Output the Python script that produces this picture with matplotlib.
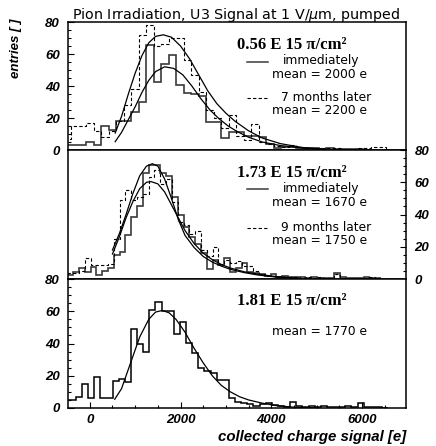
import numpy as np
import matplotlib
matplotlib.use("Agg")
import matplotlib.pyplot as plt
from matplotlib.ticker import MultipleLocator

plt.rcParams['font.family'] = ['Liberation Sans', 'DejaVu Sans']

x_lim = (-480, 6970)
y_lim = (0, 80)

# --- 0.56 E 15 pi/cm2 : histograms (bin start, bin width, counts)
top_bin_start = -568
top_bin_width = 165
top_now = [3.3, 3.3, 3.3, 5, 3.3, 15, 12.5, 18, 18, 24, 30, 65.5, 42.5, 54, 59.5,
           40.5, 35.5, 35, 34, 17.7, 17.7, 7.7, 11, 11, 9, 8.5, 8, 4, 1, 2, 2, 1.5,
           1, 1, 0.5, 1, 0.5, 0.5, 0.5, 0.5, 0]
top_later = [7, 15, 15, 17, 12, 8, 12, 18, 28, 38, 72, 78, 65, 66, 70, 70, 56, 47,
             36, 25, 20, 14, 22, 9, 6, 16.5, 5, 4, 2.5, 2, 3, 2, 1.5, 1.5, 1, 1, 1,
             0.5, 0.5, 1, 1, 2, 2, 0]
# fit curves
top_fit_now_x = [560, 700, 850, 1000, 1150, 1300, 1450, 1650, 1850, 2050, 2250, 2450,
                 2650, 2850, 3050, 3250, 3500, 3800, 4200, 4700, 5200]
top_fit_now_y = [5.2, 11, 19, 27, 36, 43.5, 49, 52, 51, 47, 40, 32, 25, 19.5, 15,
                 11.5, 8, 5, 2.8, 1.2, 0.4]
top_fit_later_x = [560, 700, 850, 1000, 1150, 1300, 1450, 1620, 1800, 2000, 2200, 2400,
                   2600, 2800, 3000, 3200, 3500, 3800, 4200, 4700, 5200]
top_fit_later_y = [10.6, 21, 35, 48, 59, 67, 71, 72, 70.5, 65, 57, 47, 37, 29, 23, 18,
                   12, 7.5, 4, 1.5, 0.5]

# --- 1.73 E 15 pi/cm2
mid_bin_start = -494
mid_bin_width = 128
mid_now = [2.5, 4.5, 6.6, 4.5, 7.6, 2.5, 5, 6.6, 15, 17, 27, 38.7, 45, 65.5, 70.7,
           70.7, 66, 64, 51, 40, 32.5, 26, 22, 16, 6, 12, 8.7, 12.8, 4.5, 6.6, 9.7,
           4.5, 3.5, 3, 2, 3, 1.5, 2, 1, 1.5, 1, 0.5, 1, 0.5, 0.5, 0.5, 4, 1, 0.5,
           0.5, 0.5, 1.5, 0.5, 0.5]
mid_later = [3.5, 3.5, 5, 12.8, 8.7, 8.7, 8.7, 9, 25, 49, 55, 49, 51, 53, 63.5, 67.6,
             59, 62, 48, 35.5, 33.5, 28, 30, 18, 14, 20, 9, 12, 10, 11, 8, 8, 5, 3, 2,
             2, 1.5, 1, 1.5, 1, 0.5, 1, 0.5, 1, 0.5, 0.5, 3, 0.5, 0.5, 0.5, 0.5, 0.5,
             1.5, 0]
mid_fit_now_x = [500, 650, 800, 950, 1100, 1250, 1380, 1500, 1650, 1800, 1950, 2100,
                 2300, 2500, 2700, 2900, 3100, 3400, 3700, 4100, 4600]
mid_fit_now_y = [18, 28, 40, 53, 64, 70, 71.5, 70, 62, 50, 37, 27, 19.5, 14, 10.5, 8,
                 6, 4, 2.5, 1.2, 0.4]
mid_fit_later_x = [500, 650, 800, 950, 1100, 1250, 1350, 1500, 1650, 1800, 1950, 2100,
                   2300, 2500, 2700, 2900, 3100, 3400, 3700, 4100, 4600]
mid_fit_later_y = [15.5, 26, 38, 48, 56, 60, 60.4, 59, 54, 46, 38, 30, 22, 16, 12, 9,
                   6.8, 4.5, 3, 1.5, 0.5]

# --- 1.81 E 15 pi/cm2
bot_bin_start = -578
bot_bin_width = 135
bot_counts = [5, 5, 7, 15, 6, 19, 6, 6, 17, 18, 16, 49, 40, 35, 61, 66, 60, 60, 46,
              53.5, 40.5, 34, 24.5, 23, 21.5, 17.5, 17.5, 6, 4, 3, 2.5, 1.2, 2.3, 3,
              1.6, 1, 0.4, 4, 1, 0.5, 1, 0.5, 1, 0.5, 0.5, 0.5, 1, 0.5, 3, 0.5, 0.5,
              0.5, 0]
bot_fit_x = [550, 700, 900, 1100, 1300, 1450, 1600, 1750, 1900, 2100, 2300, 2500, 2700,
             2900, 3100, 3300, 3500, 3800, 4100, 4500, 5000]
bot_fit_y = [5.4, 12, 28, 44, 55, 59.5, 60.5, 59, 55, 47, 37, 28, 20, 14, 10, 7, 5, 3,
             1.5, 0.5, 0.1]

fluences = ['0.56 E 15 π/cm²', '1.73 E 15 π/cm²', '1.81 E 15 π/cm²']
means_now = ['mean = 2000 e', 'mean = 1670 e', 'mean = 1770 e']
means_later = ['mean = 2200 e', 'mean = 1750 e']
later_labels = ['7 months later', '9 months later']

solid_col = '#3a3a3a'
bold_it = dict(fontweight='bold', fontstyle='italic')


def edges(start, width, counts):
    return start + width * np.arange(len(counts) + 1)


fig = plt.figure(figsize=(4.36, 4.46), dpi=100)
left, width = 68 / 436, 338 / 436
h = 129 / 446
ax_top = fig.add_axes([left, 1 - 150 / 446, width, 128 / 446])
ax_mid = fig.add_axes([left, 1 - 279 / 446, width, h])
ax_bot = fig.add_axes([left, 1 - 408 / 446, width, h])

for ax in (ax_top, ax_mid, ax_bot):
    ax.set_xlim(*x_lim)
    ax.set_ylim(*y_lim)
    ax.set_yticks([0, 20, 40, 60, 80])
    ax.yaxis.set_minor_locator(MultipleLocator(5))
    ax.set_xticks([0, 2000, 4000, 6000])
    ax.xaxis.set_minor_locator(MultipleLocator(500))
    for s in ax.spines.values():
        s.set_linewidth(1.1)
    ax.tick_params(which='both', direction='in', top=False, bottom=False,
                   labelbottom=False, left=False, right=False,
                   labelleft=False, labelright=False)
    ax.tick_params(which='major', length=4.5, width=0.8, pad=6)
    ax.tick_params(which='minor', length=2.2, width=0.8)

ax_top.tick_params(which='both', left=True, labelleft=True)
ax_mid.tick_params(which='both', right=True, labelright=True)
ax_bot.tick_params(which='both', left=True, labelleft=True, bottom=True,
                   labelbottom=True)
ax_bot.tick_params(axis='x', which='major', pad=4)
for ax in (ax_top, ax_mid, ax_bot):
    for lab in ax.get_yticklabels() + ax.get_xticklabels():
        lab.set_fontweight('bold')
        lab.set_fontstyle('italic')
        lab.set_fontsize(9.5)

# histograms
ax_top.stairs(top_now, edges(top_bin_start, top_bin_width, top_now), baseline=None,
              color=solid_col, lw=1.2)
ax_top.stairs(top_later, edges(top_bin_start, top_bin_width, top_later),
              baseline=None, color='black', lw=0.8, ls=(0, (3, 2)))
ax_top.plot(top_fit_now_x, top_fit_now_y, color='black', lw=0.9)
ax_top.plot(top_fit_later_x, top_fit_later_y, color='black', lw=0.9)

ax_mid.stairs(mid_now, edges(mid_bin_start, mid_bin_width, mid_now), baseline=None,
              color=solid_col, lw=1.2)
ax_mid.stairs(mid_later, edges(mid_bin_start, mid_bin_width, mid_later),
              baseline=None, color='black', lw=0.8, ls=(0, (3, 2)))
ax_mid.plot(mid_fit_now_x, mid_fit_now_y, color='black', lw=0.9)
ax_mid.plot(mid_fit_later_x, mid_fit_later_y, color='black', lw=0.9)

ax_bot.stairs(bot_counts, edges(bot_bin_start, bot_bin_width, bot_counts),
              baseline=None, color='black', lw=1.1)
ax_bot.plot(bot_fit_x, bot_fit_y, color='black', lw=0.9)

# labels inside panels
fl_font = dict(family='Liberation Serif', fontweight='bold', fontsize=12)
txt_font = dict(family='DejaVu Sans', fontsize=8.8)
# (fluence baseline, solid-line y, immediately baseline, mean baseline,
#  dashed-line y, later baseline, later-mean baseline)
pos = [(0.789, 0.6875, 0.668, 0.566, 0.404, 0.380, 0.282),
       (0.793, 0.695, 0.671, 0.566, 0.398, 0.372, 0.272)]
for i, ax in enumerate((ax_top, ax_mid)):
    p = pos[i]
    ax.text(0.5, p[0], fluences[i], transform=ax.transAxes, va='baseline', **fl_font)
    ax.plot([0.531, 0.592], [p[1], p[1]], transform=ax.transAxes, color=solid_col,
            lw=1.1)
    ax.text(0.635, p[2], 'immediately', transform=ax.transAxes, va='baseline',
            **txt_font)
    ax.text(0.604, p[3], means_now[i], transform=ax.transAxes, va='baseline',
            **txt_font)
    ax.plot([0.531, 0.592], [p[4], p[4]], transform=ax.transAxes, color='black',
            lw=0.8, ls=(0, (3, 2)))
    ax.text(0.630, p[5], later_labels[i], transform=ax.transAxes, va='baseline',
            **txt_font)
    ax.text(0.604, p[6], means_later[i], transform=ax.transAxes, va='baseline',
            **txt_font)

ax_bot.text(0.5, 0.798, fluences[2], transform=ax_bot.transAxes, va='baseline',
            **fl_font)
ax_bot.text(0.604, 0.566, means_now[2], transform=ax_bot.transAxes, va='baseline',
            **txt_font)

fig.text(72 / 436, 1 - 19.5 / 446, r'Pion Irradiation, U3 Signal at 1 V/$\mu$m, pumped',
         family='DejaVu Sans', fontsize=10.3, va='baseline', ha='left')
fig.text(16 / 436, 1 - 48 / 446, 'entries [ ]', rotation=90, ha='center',
         va='center', fontsize=9.5, **bold_it)
fig.text(406 / 436, 1 - 437 / 446, 'collected charge signal [e]', ha='right',
         va='center', fontsize=10.8, **bold_it)

fig.savefig('out.png', dpi=100)
